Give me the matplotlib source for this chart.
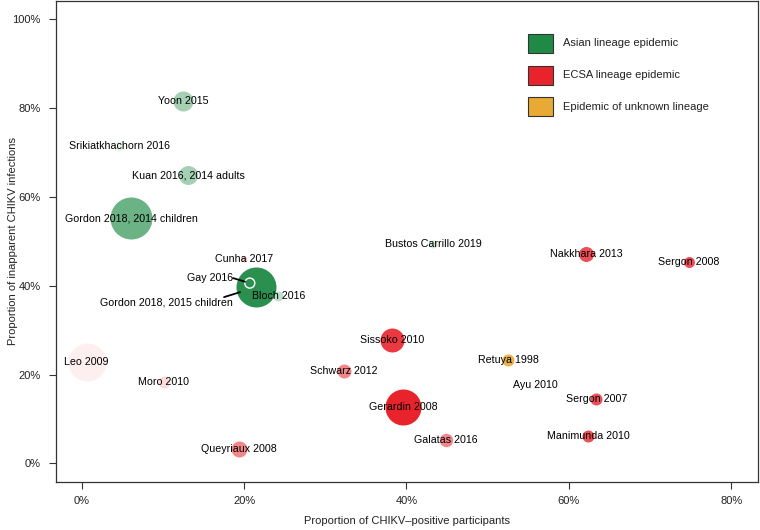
import matplotlib.pyplot as plt
from matplotlib.patches import Rectangle

plt.rcParams['font.family'] = ['Liberation Sans', 'DejaVu Sans']

# study data (percentages)
studies = ["Yoon 2015", "Srikiatkhachorn 2016", "Kuan 2016, 2014 adults",
           "Gordon 2018, 2014 children", "Cunha 2017", "Bloch 2016",
           "Gordon 2018, 2015 children", "Gay 2016", "Bustos Carrillo 2019",
           "Nakkhara 2013", "Sergon 2008", "Sissoko 2010", "Retuya 1998",
           "Schwarz 2012", "Ayu 2010", "Gerardin 2008", "Galatas 2016",
           "Sergon 2007", "Manimunda 2010", "Leo 2009", "Moro 2010",
           "Queyriaux 2008"]
pct_positive = [12.5, 4.6, 13.1, 6.1, 20.0, 24.2, 21.5, 20.7, 43.3, 62.1, 74.8,
                38.2, 52.5, 32.3, 55.9, 39.6, 44.9, 63.4, 62.4, 0.6, 10.1, 19.4]
pct_inapparent = [81.6, 71.5, 64.9, 55.2, 46.0, 37.7, 39.7, 40.6, 49.4, 47.1, 45.3,
                  27.8, 23.3, 20.9, 17.7, 12.7, 5.3, 14.5, 6.1, 22.8, 18.3, 3.2]
lineage = ["Asian", "Asian", "Asian", "Asian", "ECSA", "Asian", "Asian", "Asian",
           "Asian", "ECSA", "ECSA", "ECSA", "Unknown", "ECSA", "ECSA", "ECSA",
           "ECSA", "ECSA", "ECSA", "ECSA", "ECSA", "ECSA"]
# relative study size (bubble radius) and weight (opacity)
study_size = [10, 5, 9.5, 21, 3, 5, 20, 5, 4, 7.5, 5.5, 12, 6, 7, 4, 18, 6.7,
              6, 6, 19, 6, 8]
study_weight = [0.4, 0.1, 0.4, 0.66, 0.25, 0.28, 0.95, 0.3, 0.2, 0.8, 0.8, 0.9,
                0.9, 0.55, 0.04, 1.0, 0.55, 0.8, 0.8, 0.07, 0.16, 0.55]

lineage_colors = {"Asian": "#1f8a45", "ECSA": "#e8232b", "Unknown": "#e8a935"}
lineage_names = {"Asian": "Asian lineage epidemic",
                 "ECSA": "ECSA lineage epidemic",
                 "Unknown": "Epidemic of unknown lineage"}
# labels drawn beside the bubble with a leader line (offset in points)
leader_labels = {"Gay 2016": ((-12, 3.6), (1.0, 0.5), 1.0),
                 "Gordon 2018, 2015 children": ((-16.5, -10.8), (0.93, 1.0), 0.85)}

W, H = 760, 530
fig = plt.figure(figsize=(W / 100, H / 100), dpi=100)
ax = fig.add_axes([56 / W, (H - 481.7) / H, (758 - 56) / W, (481.7 - 1) / H])

for name, x, y, lin, r, a in zip(studies, pct_positive, pct_inapparent,
                                 lineage, study_size, study_weight):
    s = (1.44 * r) ** 2
    if name == "Gay 2016":
        ax.scatter(x, y, s=s, facecolors="none", edgecolors="white",
                   linewidths=1.0, zorder=3)
    else:
        ax.scatter(x, y, s=s, color=lineage_colors[lin], alpha=a,
                   linewidths=0, zorder=2)
    if name in leader_labels:
        offset, rel, frac = leader_labels[name]
        ax.annotate(name, xy=(x, y), xytext=offset, textcoords="offset points",
                    ha="right", va="center", fontsize=7.7, zorder=5,
                    arrowprops=dict(arrowstyle="-", color="black", lw=1.3,
                                    relpos=rel, patchA=None, shrinkA=0,
                                    shrinkB=r * 0.72 * frac))
    else:
        ax.text(x, y, name, ha="center", va="center", fontsize=7.7, zorder=5)

ax.set_xlim(-3.17, 83.3)
ax.set_ylim(-4.1, 104.1)
ax.set_xticks([0, 20, 40, 60, 80])
ax.set_xticklabels(["0%", "20%", "40%", "60%", "80%"])
ax.set_yticks([0, 20, 40, 60, 80, 100])
ax.set_yticklabels(["0%", "20%", "40%", "60%", "80%", "100%"])
ax.tick_params(axis="both", length=5, width=0.8, color="#333333",
               labelsize=8, labelcolor="#222222")
ax.tick_params(axis="x", pad=5.5)
ax.tick_params(axis="y", pad=6)
for sp in ax.spines.values():
    sp.set_color("#333333")
    sp.set_linewidth(0.9)

fig.text(407 / W, 1 - 521 / H, "Proportion of CHIKV\u2013positive participants",
         ha="center", va="center", fontsize=8, color="#222222")
fig.text(13 / W, 1 - 241 / H, "Proportion of inapparent CHIKV infections",
         ha="center", va="center", rotation=90, fontsize=8, color="#222222")

# legend drawn as boxes with labels
for i, lin in enumerate(["Asian", "ECSA", "Unknown"]):
    top = 34 + i * 31.5
    fig.add_artist(Rectangle((528 / W, 1 - (top + 19) / H), 25 / W, 19 / H,
                             transform=fig.transFigure,
                             facecolor=lineage_colors[lin],
                             edgecolor="#333333", linewidth=0.8))
    fig.text(563 / W, 1 - (top + 9.5) / H, lineage_names[lin],
             ha="left", va="center", fontsize=8, color="#222222")

fig.savefig("out.png", dpi=100)
